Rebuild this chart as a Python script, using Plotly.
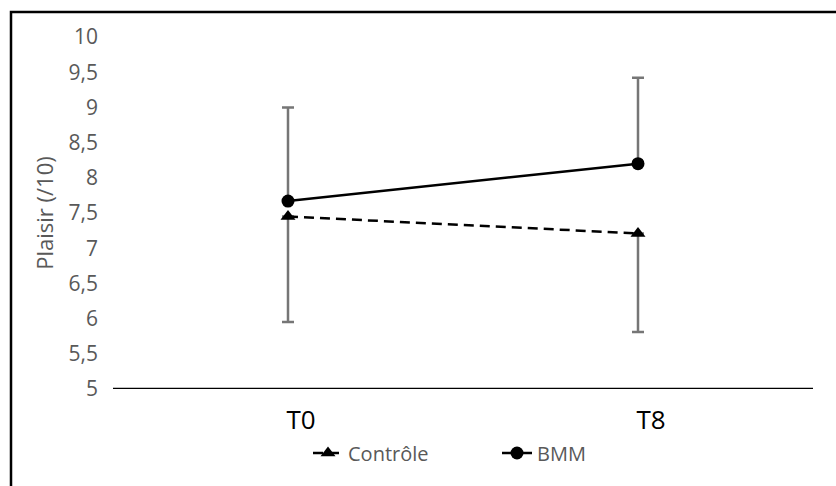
import plotly.graph_objects as go

categories = ["T0", "T8"]
controle = [7.45, 7.21]
controle_minus = [1.50, 1.40]
bmm = [7.67, 8.20]
bmm_plus = [1.33, 1.22]
y_ticks = [5, 5.5, 6, 6.5, 7, 7.5, 8, 8.5, 9, 9.5, 10]
y_tick_labels = ["5", "5,5", "6", "6,5", "7", "7,5", "8", "8,5", "9", "9,5", "10"]

GRAY = "#595959"
ERR = "#767676"
FONT = "Open Sans"

fig = go.Figure()
fig.add_trace(go.Scatter(
    x=categories, y=controle, name="Contrôle", mode="lines+markers",
    line=dict(color="black", width=2.5, dash="10px,6px"),
    marker=dict(symbol="triangle-up", size=13, color="black"),
    error_y=dict(type="data", symmetric=False, array=[0, 0], arrayminus=controle_minus,
                 color=ERR, thickness=2.5, width=6),
))
fig.add_trace(go.Scatter(
    x=categories, y=bmm, name="BMM", mode="lines+markers",
    line=dict(color="black", width=2.5),
    marker=dict(symbol="circle", size=13, color="black"),
    error_y=dict(type="data", symmetric=False, array=bmm_plus, arrayminus=[0, 0],
                 color=ERR, thickness=2.5, width=6),
))

L, R, T, B = 113, 23, 37, 97
W, H = 836, 486
pw, ph = W - L - R, H - T - B

def px(x):
    return (x - L) / pw

def py(y):
    return (H - B - y) / ph

fig.update_layout(
    width=W, height=H,
    margin=dict(l=L, r=R, t=T, b=B, autoexpand=False),
    paper_bgcolor="white", plot_bgcolor="white",
    font=dict(family=FONT, color=GRAY, size=21),
    showlegend=True,
    legend=dict(orientation="h", x=px(308), xanchor="left", y=py(453), yanchor="middle",
                font=dict(size=20, color=GRAY), entrywidth=144, entrywidthmode="pixels",
                bgcolor="rgba(0,0,0,0)"),
    xaxis=dict(range=[-0.5, 1.5], showgrid=False, zeroline=False, showline=False,
               ticks="", tickfont=dict(size=26, color="black"), ticklabelstandoff=13,
               ticklabelshift=13, fixedrange=True),
    yaxis=dict(range=[5, 10], tickvals=y_ticks, ticktext=y_tick_labels, showgrid=False,
               zeroline=False, showline=False, ticks="", ticklabelstandoff=14,
               tickfont=dict(size=21, color=GRAY),
               title=dict(text="Plaisir (/10)", font=dict(size=22, color=GRAY), standoff=8),
               automargin=False, fixedrange=True),
    shapes=[
        dict(type="line", xref="paper", yref="y", x0=0, x1=1, y0=5, y1=5,
             line=dict(color="black", width=2.5), layer="above"),
        dict(type="rect", xref="paper", yref="paper", x0=px(11), x1=px(900), y0=py(600), y1=py(12),
             line=dict(color="black", width=2.5), fillcolor="rgba(0,0,0,0)"),
    ],
)

fig.write_html("out.html", config={"displayModeBar": False},
               post_script="document.body.style.margin='0';document.body.style.overflow='hidden';")
